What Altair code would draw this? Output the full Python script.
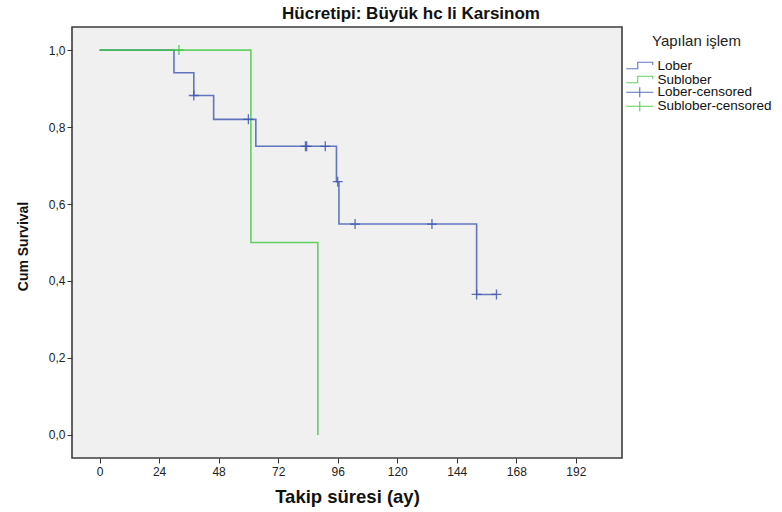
import altair as alt
import pandas as pd

# Kaplan-Meier step curves (time in months, cumulative survival)
lober_t = [0, 30, 38, 46, 63, 95.5, 96.5, 152, 160]
lober_s = [1.0, 0.941, 0.882, 0.82, 0.75, 0.658, 0.548, 0.365, 0.365]
sub_t = [0, 61, 88]
sub_s = [1.0, 0.5, 0.0]

# censored observations
lober_cens_t = [38, 60, 83, 83.5, 91, 96, 103, 134, 152, 160]
lober_cens_s = [0.882, 0.82, 0.75, 0.75, 0.75, 0.658, 0.548, 0.548, 0.365, 0.365]
sub_cens_t = [32]
sub_cens_s = [1.0]

curve_names = ["Lober", "Sublober"]
censor_names = ["Lober-censored", "Sublober-censored"]
group_colors = ["#3f57b3", "#3fc83f"]
x_ticks = [0, 24, 48, 72, 96, 120, 144, 168, 192]
y_ticks = [0.0, 0.2, 0.4, 0.6, 0.8, 1.0]

STEP_ICON = "M-2.7,0.6H-0.4V-0.7H2.6V-0.15"
CROSS_ICON = "M-2.7,0H2.7M0,-1V1"

curves = pd.DataFrame(
    [{"t": t, "s": s, "grp": "Lober", "i": i} for i, (t, s) in enumerate(zip(lober_t, lober_s))]
    + [{"t": t, "s": s, "grp": "Sublober", "i": i} for i, (t, s) in enumerate(zip(sub_t, sub_s))]
)
censored = pd.DataFrame(
    [{"t": t, "s": s, "grp": "Lober-censored"} for t, s in zip(lober_cens_t, lober_cens_s)]
    + [{"t": t, "s": s, "grp": "Sublober-censored"} for t, s in zip(sub_cens_t, sub_cens_s)]
)

FONT = "Liberation Sans"
comma_label = "replace(format(datum.value, '.1f'), '.', ',')"

x_enc = alt.X(
    "t:Q",
    scale=alt.Scale(domain=[-11.1, 210.6], nice=False, zero=False),
    axis=alt.Axis(
        values=x_ticks, title="Takip süresi (ay)", grid=False, domain=False,
        tickColor="#333333", tickSize=5, labelPadding=3, labelFontSize=12,
        labelColor="#222222", titleFontSize=18.5, titleFontWeight="bold",
        titleColor="#111111", titleBaseline="alphabetic", titleY=44.5,
        labelFont=FONT, titleFont=FONT,
    ),
)
y_enc = alt.Y(
    "s:Q",
    scale=alt.Scale(domain=[-0.06, 1.06], nice=False, zero=False),
    axis=alt.Axis(
        values=y_ticks, title="Cum Survival", grid=False, domain=False,
        tickColor="#333333", tickSize=5, labelPadding=2, labelFontSize=12,
        labelColor="#222222", labelExpr=comma_label, titleFontSize=14,
        titleFontWeight="bold", titleColor="#111111", titlePadding=18,
        titleY=219, labelFont=FONT, titleFont=FONT,
    ),
)

common_legend = dict(
    orient="none", labelFontSize=13.5, labelColor="#111111",
    labelFont=FONT, labelOffset=11, symbolSize=100, rowPadding=-2.5,
    padding=0, symbolStrokeWidth=1.1, symbolFillColor="transparent",
)

# survival curves: step icon in the legend; the group is shifted right so the
# title sits over the labels, and the symbols are pulled back by symbolOffset
lines = alt.Chart(curves).mark_line(
    interpolate="step-after", strokeWidth=1.6, opacity=0.8
).encode(
    x=x_enc,
    y=y_enc,
    stroke=alt.Stroke(
        "grp:N",
        scale=alt.Scale(domain=curve_names, range=group_colors),
        legend=alt.Legend(
            title="Yapılan işlem", legendX=580, legendY=7, symbolOffset=-19,
            titleFontSize=15, titleFontWeight="normal", titleColor="#222222",
            titleAnchor="start", titlePadding=10, titleFont=FONT,
            symbolType=STEP_ICON, **common_legend,
        ),
    ),
    order=alt.Order("i:Q"),
)

# censored observations: "+" markers
marks = alt.Chart(censored).mark_point(
    shape="M-1,0H1M0,-1V1", size=100, filled=False, strokeWidth=1.3, opacity=0.85
).encode(
    x=x_enc,
    y=y_enc,
    color=alt.Color(
        "grp:N",
        scale=alt.Scale(domain=censor_names, range=group_colors),
        legend=alt.Legend(
            title=None, legendX=561, legendY=58.5, symbolType=CROSS_ICON, **common_legend
        ),
    ),
)

chart = (
    alt.layer(lines, marks)
    .properties(
        width=550,
        height=431,
        autosize=alt.AutoSizeParams(type="none"),
        padding={"left": 72, "top": 27, "right": 160, "bottom": 54},
        background="white",
        title=alt.TitleParams(
            "Hücretipi: Büyük hc li Karsinom", fontSize=17, fontWeight="bold",
            font=FONT, color="#111111", anchor="middle", dx=64,
            baseline="alphabetic", offset=6, dy=15,
        ),
    )
    .configure_view(fill="#f0f0f0", stroke="#3c3c3c", strokeWidth=1.6)
)

chart.save("out.html", embed_options={"renderer": "svg", "actions": False})
